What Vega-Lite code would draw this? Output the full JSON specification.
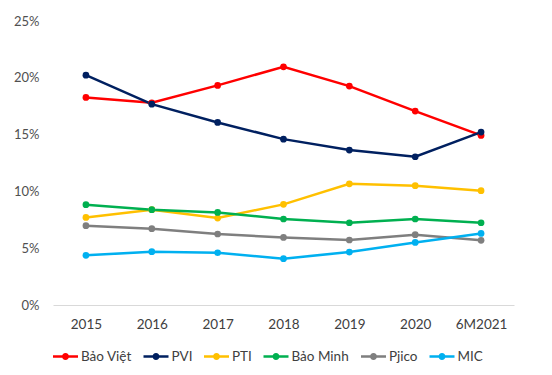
{
  "$schema": "https://vega.github.io/schema/vega-lite/v6.json",
  "autosize": {"type": "none"},
  "width": 461,
  "height": 284,
  "padding": {"left": 53, "top": 21, "right": 38, "bottom": 70},
  "background": "white",
  "config": {
    "view": {"stroke": null},
    "font": "Lato",
    "axis": {"labelFont": "Lato", "labelFontSize": 13, "labelColor": "#505050", "title": null}
  },
  "data": {
    "values": [
      {"year": "2015", "company": "Bảo Việt", "value": 0.1827},
      {"year": "2016", "company": "Bảo Việt", "value": 0.178},
      {"year": "2017", "company": "Bảo Việt", "value": 0.1933},
      {"year": "2018", "company": "Bảo Việt", "value": 0.2097},
      {"year": "2019", "company": "Bảo Việt", "value": 0.1927},
      {"year": "2020", "company": "Bảo Việt", "value": 0.1707},
      {"year": "6M2021", "company": "Bảo Việt", "value": 0.1493},
      {"year": "2015", "company": "PVI", "value": 0.2023},
      {"year": "2016", "company": "PVI", "value": 0.1768},
      {"year": "2017", "company": "PVI", "value": 0.1607},
      {"year": "2018", "company": "PVI", "value": 0.146},
      {"year": "2019", "company": "PVI", "value": 0.1364},
      {"year": "2020", "company": "PVI", "value": 0.1305},
      {"year": "6M2021", "company": "PVI", "value": 0.1522},
      {"year": "2015", "company": "PTI", "value": 0.0771},
      {"year": "2016", "company": "PTI", "value": 0.0839},
      {"year": "2017", "company": "PTI", "value": 0.0765},
      {"year": "2018", "company": "PTI", "value": 0.0886},
      {"year": "2019", "company": "PTI", "value": 0.1067},
      {"year": "2020", "company": "PTI", "value": 0.105},
      {"year": "6M2021", "company": "PTI", "value": 0.1006},
      {"year": "2015", "company": "Bảo Minh", "value": 0.0883},
      {"year": "2016", "company": "Bảo Minh", "value": 0.0839},
      {"year": "2017", "company": "Bảo Minh", "value": 0.0815},
      {"year": "2018", "company": "Bảo Minh", "value": 0.0757},
      {"year": "2019", "company": "Bảo Minh", "value": 0.0724},
      {"year": "2020", "company": "Bảo Minh", "value": 0.0757},
      {"year": "6M2021", "company": "Bảo Minh", "value": 0.0724},
      {"year": "2015", "company": "Pjico", "value": 0.0698},
      {"year": "2016", "company": "Pjico", "value": 0.0672},
      {"year": "2017", "company": "Pjico", "value": 0.0625},
      {"year": "2018", "company": "Pjico", "value": 0.0595},
      {"year": "2019", "company": "Pjico", "value": 0.0572},
      {"year": "2020", "company": "Pjico", "value": 0.0619},
      {"year": "6M2021", "company": "Pjico", "value": 0.0569},
      {"year": "2015", "company": "MIC", "value": 0.0437},
      {"year": "2016", "company": "MIC", "value": 0.0469},
      {"year": "2017", "company": "MIC", "value": 0.046},
      {"year": "2018", "company": "MIC", "value": 0.0408},
      {"year": "2019", "company": "MIC", "value": 0.0466},
      {"year": "2020", "company": "MIC", "value": 0.0551},
      {"year": "6M2021", "company": "MIC", "value": 0.063}
    ]
  },
  "encoding": {
    "x": {
      "field": "year", "type": "ordinal",
      "scale": {"type": "point", "padding": 0.5},
      "axis": {"labelAngle": 0, "ticks": false, "domainColor": "#D9D9D9", "domainWidth": 1, "labelPadding": 12, "labelFontSize": 13.5, "labelColor": "#404040"}
    },
    "y": {
      "field": "value", "type": "quantitative",
      "scale": {"domain": [0, 0.25]},
      "axis": {"values": [0, 0.05, 0.1, 0.15, 0.2, 0.25], "format": ".0%", "domain": false, "ticks": false, "grid": false, "labelPadding": 14}
    },
    "color": {
      "field": "company", "type": "nominal",
      "scale": {
        "domain": ["Bảo Việt", "PVI", "PTI", "Bảo Minh", "Pjico", "MIC"],
        "range": ["#FF0000", "#002060", "#FFC000", "#00B050", "#7F7F7F", "#00B0F0"]
      },
      "legend": {
        "title": null, "orient": "bottom", "direction": "horizontal",
        "symbolType": "M-1,-0.1L1,-0.1L1,0.1L-1,0.1Z M-0.28,0A0.28,0.28 0 1,1 0.28,0A0.28,0.28 0 1,1 -0.28,0Z",
        "symbolSize": 625, "symbolStrokeWidth": 0, "symbolOpacity": 1,
        "labelFont": "Lato", "labelFontSize": 13.5, "labelColor": "#404040",
        "labelOffset": 3, "columnPadding": 11.5, "offset": 13
      }
    }
  },
  "layer": [
    {"mark": {"type": "line", "strokeWidth": 2.5}},
    {"mark": {"type": "point", "filled": true, "size": 45, "opacity": 1}}
  ]
}
